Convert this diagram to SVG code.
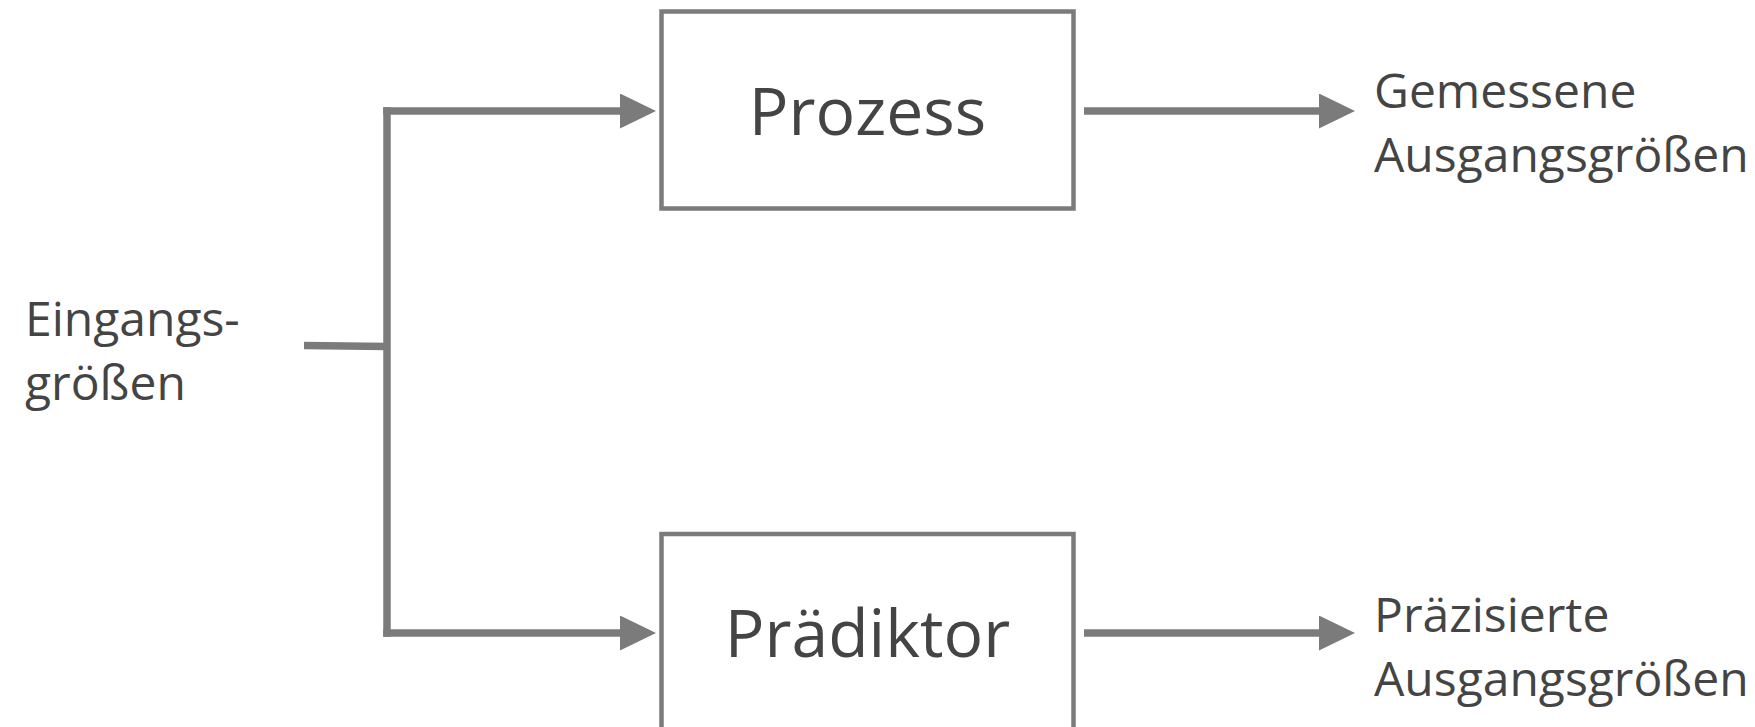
<svg xmlns="http://www.w3.org/2000/svg" width="1755" height="727" viewBox="0 0 1755 727">
<defs>
<style>
.box{fill:#fff;stroke:#7b7b7b;stroke-width:4.5}
.conn{fill:none;stroke:#7b7b7b;stroke-width:7.5}
.lbl{font-family:"Open Sans","Liberation Sans",sans-serif;fill:#444;font-size:48px}
.title{font-family:"Open Sans","Liberation Sans",sans-serif;fill:#444;font-size:66px;text-anchor:middle}
</style>
<marker id="ah" markerUnits="userSpaceOnUse" markerWidth="36" markerHeight="35" viewBox="0 0 36 35" refX="6" refY="17.5" orient="auto">
<path d="M0,0 L36,17.5 L0,35 Z" fill="#7b7b7b"/>
</marker>
</defs>
<rect width="1755" height="727" fill="#fff"/>
<g id="connectors">
<path class="conn" d="M304,345.5 L387,346.5"/>
<path class="conn" d="M387,107.3 V636.7"/>
<path class="conn" d="M383.3,111 H626" marker-end="url(#ah)"/>
<path class="conn" d="M383.3,633 H626" marker-end="url(#ah)"/>
<path class="conn" d="M1084,111 H1325" marker-end="url(#ah)"/>
<path class="conn" d="M1084,633 H1325" marker-end="url(#ah)"/>
</g>
<g id="prozess">
<rect class="box" x="661.5" y="11.5" width="412" height="197"/>
<text class="title" x="867.5" y="135">Prozess</text>
</g>
<g id="praediktor">
<rect class="box" x="661.5" y="534" width="412" height="230"/>
<text class="title" x="867.5" y="657">Prädiktor</text>
</g>
<g id="eingang">
<text class="lbl" x="25" y="336">Eingangs-</text>
<text class="lbl" x="25" y="399.5">größen</text>
</g>
<g id="gemessen">
<text class="lbl" x="1374" y="107.5">Gemessene</text>
<text class="lbl" x="1374" y="171.7">Ausgangsgrößen</text>
</g>
<g id="praezisiert">
<text class="lbl" x="1374" y="631.7">Präzisierte</text>
<text class="lbl" x="1374" y="696">Ausgangsgrößen</text>
</g>
</svg>
